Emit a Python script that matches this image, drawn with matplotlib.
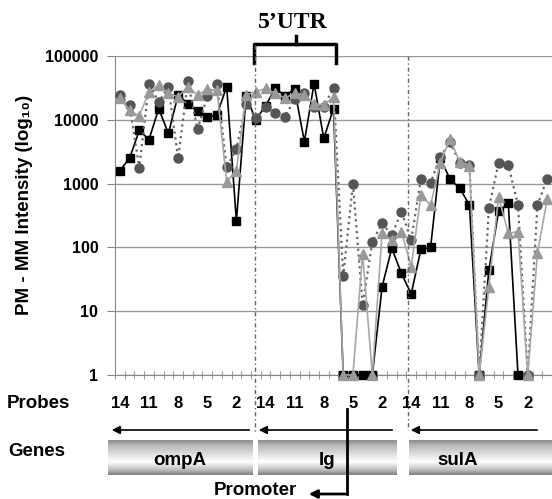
import numpy as np
import matplotlib
import matplotlib.pyplot as plt
from matplotlib.transforms import Affine2D
from matplotlib.patches import FancyArrowPatch
from matplotlib.lines import Line2D

plt.rcParams['font.family'] = ['Liberation Sans', 'DejaVu Sans']
plt.rcParams['font.weight'] = 'bold'

nan = np.nan

genes = ["ompA", "Ig", "sulA"]
# probe numbers of each region, in plotting order
ompA_probes = list(range(14, 0, -1))
ig_probes = list(range(15, -1, -1))
sula_probes = list(range(14, -1, -1))
label_probes = [14, 11, 8, 5, 2]

# PM - MM intensity, black squares
ompA_sq = [1600, 2500, 6800, 4900, 15000, 6100, 24500, 18000, 13500, 11000, 12000, 33000, 260, 23500]
ig_sq = [10000, 16600, 31000, 24000, 30000, 4550, 37000, 5100, 15000, 1, 1, 1, 1, 24, 97, 39]
sula_sq = [18.6, 93, 100, 2500, 1170, 850, 460, 1, 44, 370, 490, 1, nan, nan, nan]

# grey circles
ompA_ci = [24500, 17000, 1740, 37000, 19000, 33000, 2500, 40000, 7100, 23500, 37000, 1830, 3450, 18000]
ig_ci = [10500, 16000, 13000, 11200, 21000, 26000, 16000, 16000, 32000, 35, 1000, 12.5, 123, 237, 156, 363]
sula_ci = [131, 1200, 1030, 2650, 4500, 2100, 1950, 1, 410, 2130, 1950, 460, 1, 460, 1200]

# light grey triangles
ompA_tr = [22000, 14000, 11500, 27500, 35000, 26000, 23000, 33000, 24500, 30000, 29000, 1070, 1600, 24500]
ig_tr = [27500, 31000, 26000, 22000, 26000, 24500, 18000, 17000, 23000, 1, 1, 79, 1, 166, 130, 177]
sula_tr = [50, 660, 460, 2130, 5000, 2200, 1900, 1, 24, 620, 166, 177, 1, 81, 565]

squares = ompA_sq + ig_sq + sula_sq
circles = ompA_ci + ig_ci + sula_ci
triangles = ompA_tr + ig_tr + sula_tr
probes = ompA_probes + ig_probes + sula_probes
x = np.arange(len(squares))

W, H = 552, 499
fig = plt.figure(figsize=(W / 100, H / 100), dpi=100)
# pixel coordinates measured from the top-left corner
pix = Affine2D().scale(1 / W, -1 / H).translate(0, 1) + fig.transFigure

ax = fig.add_axes([115 / W, 124 / H, 437 / W, 319 / H])
ax.plot(x, squares, color="black", lw=1.2, marker="s", ms=6, clip_on=False, zorder=3)
ax.plot(x, circles, color="#666666", ls=":", lw=1.6, marker="o", ms=6.5,
        mfc="#555555", mec="#555555", clip_on=False, zorder=4)
ax.plot(x, triangles, color="#a8a8a8", lw=1.2, marker="^", ms=7,
        mfc="#999999", mec="#999999", clip_on=False, zorder=5)

ax.set_yscale("log")
ax.set_ylim(1, 100000)
ax.set_xlim(-0.5, 44.4)
yt = [1, 10, 100, 1000, 10000, 100000]
ax.set_yticks(yt)
ax.set_yticklabels([str(v) for v in yt], fontsize=11.5, fontweight="bold")
ax.yaxis.set_minor_locator(matplotlib.ticker.NullLocator())
ax.tick_params(axis="y", length=6, color="#888888", pad=6)
ax.yaxis.grid(True, color="#999999", lw=1)
ax.set_axisbelow(True)

lab_pos = [i for i, p in enumerate(probes) if p in label_probes]
ax.set_xticks(lab_pos)
ax.set_xticklabels([str(probes[i]) for i in lab_pos], fontsize=12, fontweight="bold")
ax.tick_params(axis="x", which="major", length=0, pad=15)
ax.set_xticks(np.arange(-0.5, len(x), 1), minor=True)
ax.tick_params(axis="x", which="minor", direction="inout", length=6, color="#888888")

for s in ["top", "right"]:
    ax.spines[s].set_visible(False)
for s in ["left", "bottom"]:
    ax.spines[s].set_color("#888888")

fig.text(25, 205, "PM - MM Intensity (log\u2081\u2080)", transform=pix, rotation=90,
         ha="center", va="center", fontsize=13.5, fontweight="bold")

# 5'UTR bracket
fig.add_artist(Line2D([254, 254, 336, 336], [63, 44, 44, 63], color="black", lw=2.5, transform=pix))
fig.add_artist(Line2D([296, 296], [44, 36], color="black", lw=2.5, transform=pix))
fig.text(293, 23, "5\u2019UTR", transform=pix, ha="center", va="center", fontsize=17,
         fontweight="bold", family="Liberation Serif")

# region separators
for xs, y0, y1 in [(255, 45, 433), (408, 56, 430)]:
    fig.add_artist(Line2D([xs, xs], [y0, y1], color="#666666", lw=1,
                          ls=(0, (3, 2, 1, 2)), transform=pix))

# transcription direction arrows
for xa, xb in [(252, 109), (395, 256), (540, 408)]:
    fig.add_artist(FancyArrowPatch((xa, 430), (xb, 430), transform=pix, arrowstyle="-|>",
                                   mutation_scale=12, lw=1.2, color="black"))

fig.text(7, 404, "Probes", transform=pix, ha="left", va="center", fontsize=13.5, fontweight="bold")
fig.text(8, 452, "Genes", transform=pix, ha="left", va="center", fontsize=13.5, fontweight="bold")

# gene boxes with shaded gradient
t = np.linspace(0, 1, 60)
grad = np.interp(t, [0, 0.15, 0.62, 0.85, 1], [0.55, 0.72, 1.0, 0.75, 0.5])[:, None]
for name, (x0, x1) in zip(genes, [(108, 252), (258, 396), (409, 560)]):
    bax = fig.add_axes([x0 / W, 1 - 475 / H, (x1 - x0) / W, 35 / H])
    bax.imshow(grad, cmap="gray", vmin=0, vmax=1, aspect="auto", extent=[0, 1, 0, 1])
    bax.set_axis_off()
    cx = 0.5 if name != "sulA" else (458 - x0) / (x1 - x0)
    bax.text(cx, 0.42, name, transform=bax.transAxes, ha="center", va="center",
             fontsize=13.5, fontweight="bold")

# promoter arrow
fig.add_artist(Line2D([347, 347], [409, 494], color="black", lw=2, transform=pix))
fig.add_artist(FancyArrowPatch((348, 494), (306, 494), transform=pix, arrowstyle="-|>",
                               mutation_scale=12, lw=2, color="black"))
fig.text(255, 491, "Promoter", transform=pix, ha="center", va="center", fontsize=13.5,
         fontweight="bold")

fig.savefig("out.png", dpi=100)
